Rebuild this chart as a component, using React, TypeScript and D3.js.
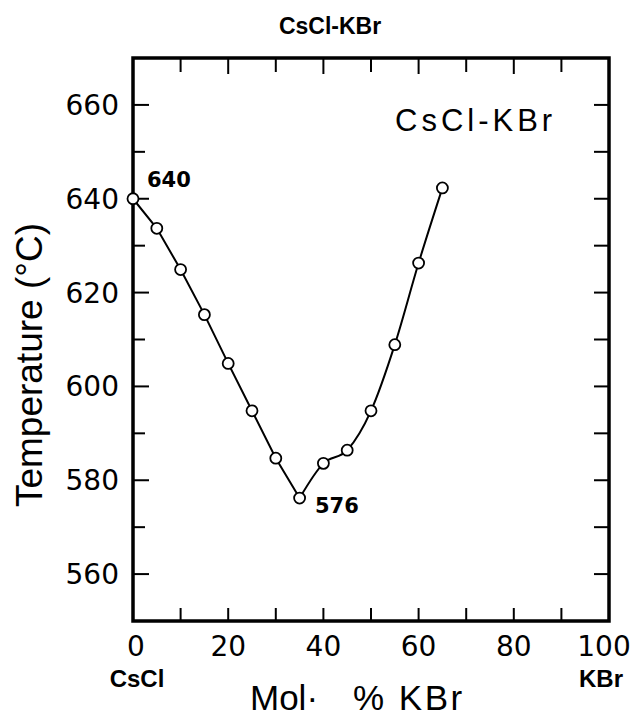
import React from "react";
import * as d3 from "d3";

const molPctKBr = [0, 5, 10, 15, 20, 25, 30, 35, 40, 45, 50, 55, 60, 65];
const temperatureC = [640, 633.7, 624.9, 615.3, 604.9, 594.8, 584.7, 576.2, 583.6, 586.4, 594.8, 608.9, 626.3, 642.3];
const eutecticIndex = 7;
const yTickLabels = [560, 580, 600, 620, 640, 660];
const xTickLabels = [0, 20, 40, 60, 80, 100];
const minorTicks = [10, 20, 30, 40, 50, 60, 70, 80, 90];
const yMinor = [560, 570, 580, 590, 600, 610, 620, 630, 640, 650, 660];

const W = 633;
const H = 719;
const L = 133, R = 609, T = 58, B = 621;

export default function App() {
  const x = d3.scaleLinear().domain([0, 100]).range([L, R]);
  const y = d3.scaleLinear().domain([550, 670]).range([B, T]);
  const pts = molPctKBr.map((m, i) => [m, temperatureC[i]] as [number, number]);
  const left = pts.slice(0, eutecticIndex + 1);
  const right = pts.slice(eutecticIndex);
  const lineL = d3.line<[number, number]>().x(d => x(d[0])).y(d => y(d[1])).curve(d3.curveLinear);
  const lineR = d3.line<[number, number]>().x(d => x(d[0])).y(d => y(d[1])).curve(d3.curveMonotoneX);
  const num = "'DejaVu Sans', sans-serif";
  const sans = "'Liberation Sans', Arial, sans-serif";
  return (
    <svg width={W} height={H} style={{ position: "absolute", left: 0, top: 0, background: "#fff" }}>
      <rect x={0} y={0} width={W} height={H} fill="#fff" />
      <text x={330} y={34} textAnchor="middle" fontFamily={sans} fontWeight="bold" fontSize={23}>CsCl-KBr</text>
      {/* frame */}
      <rect x={L} y={T} width={R - L} height={B - T} fill="none" stroke="#000" strokeWidth={3.5} />
      {/* left ticks */}
      {yMinor.map(v => (
        <line key={"yl" + v} x1={L} x2={L + (v % 20 === 0 ? 16 : 12)} y1={y(v)} y2={y(v)} stroke="#000" strokeWidth={2} />
      ))}
      {/* right ticks */}
      {yMinor.map(v => (
        <line key={"yr" + v} x1={R} x2={R - 15} y1={y(v)} y2={y(v)} stroke="#000" strokeWidth={2} />
      ))}
      {/* top ticks */}
      {minorTicks.map(v => (
        <line key={"xt" + v} x1={x(v)} x2={x(v)} y1={T} y2={T + (v % 20 === 0 ? 16 : 14)} stroke="#000" strokeWidth={2} />
      ))}
      {/* bottom ticks */}
      {minorTicks.map(v => (
        <line key={"xb" + v} x1={x(v)} x2={x(v)} y1={B} y2={B - 13} stroke="#000" strokeWidth={2} />
      ))}
      {/* y tick labels */}
      {yTickLabels.map(v => (
        <text key={"yt" + v} x={L - 14} y={y(v)} dy="0.36em" textAnchor="end" fontFamily={num} fontSize={28}>{v}</text>
      ))}
      {/* x tick labels */}
      {xTickLabels.map(v => (
        <text key={"xl" + v} x={x(v) + (v === 0 ? 3 : v === 100 ? -5 : 0)} y={656} textAnchor="middle" fontFamily={num} fontSize={28}>{v}</text>
      ))}
      <text x={137} y={687} textAnchor="middle" fontFamily={sans} fontWeight="bold" fontSize={24}>CsCl</text>
      <text x={601} y={687} textAnchor="middle" fontFamily={sans} fontWeight="bold" fontSize={24}>KBr</text>
      {/* axis titles */}
      <text x={250} y={710} fontFamily={sans} fontSize={35}>Mol·</text>
      <text x={353} y={710} fontFamily={sans} fontSize={35} letterSpacing={2.5}>% KBr</text>
      <text transform={`translate(42,365) rotate(-90)`} textAnchor="middle" fontFamily={sans} fontSize={37}>Temperature (°C)</text>
      {/* inner label */}
      <text x={395} y={131} fontFamily={sans} fontSize={31} letterSpacing={4}>CsCl-KBr</text>
      {/* curves */}
      <path d={lineL(left) || ""} fill="none" stroke="#000" strokeWidth={2} />
      <path d={lineR(right) || ""} fill="none" stroke="#000" strokeWidth={2} />
      {pts.map((p, i) => (
        <circle key={"c" + i} cx={x(p[0])} cy={y(p[1])} r={5.5} fill="#fff" stroke="#000" strokeWidth={1.8} />
      ))}
      <text x={147} y={187} fontFamily={num} fontWeight="bold" fontSize={21}>640</text>
      <text x={315} y={513} fontFamily={num} fontWeight="bold" fontSize={21}>576</text>
    </svg>
  );
}
